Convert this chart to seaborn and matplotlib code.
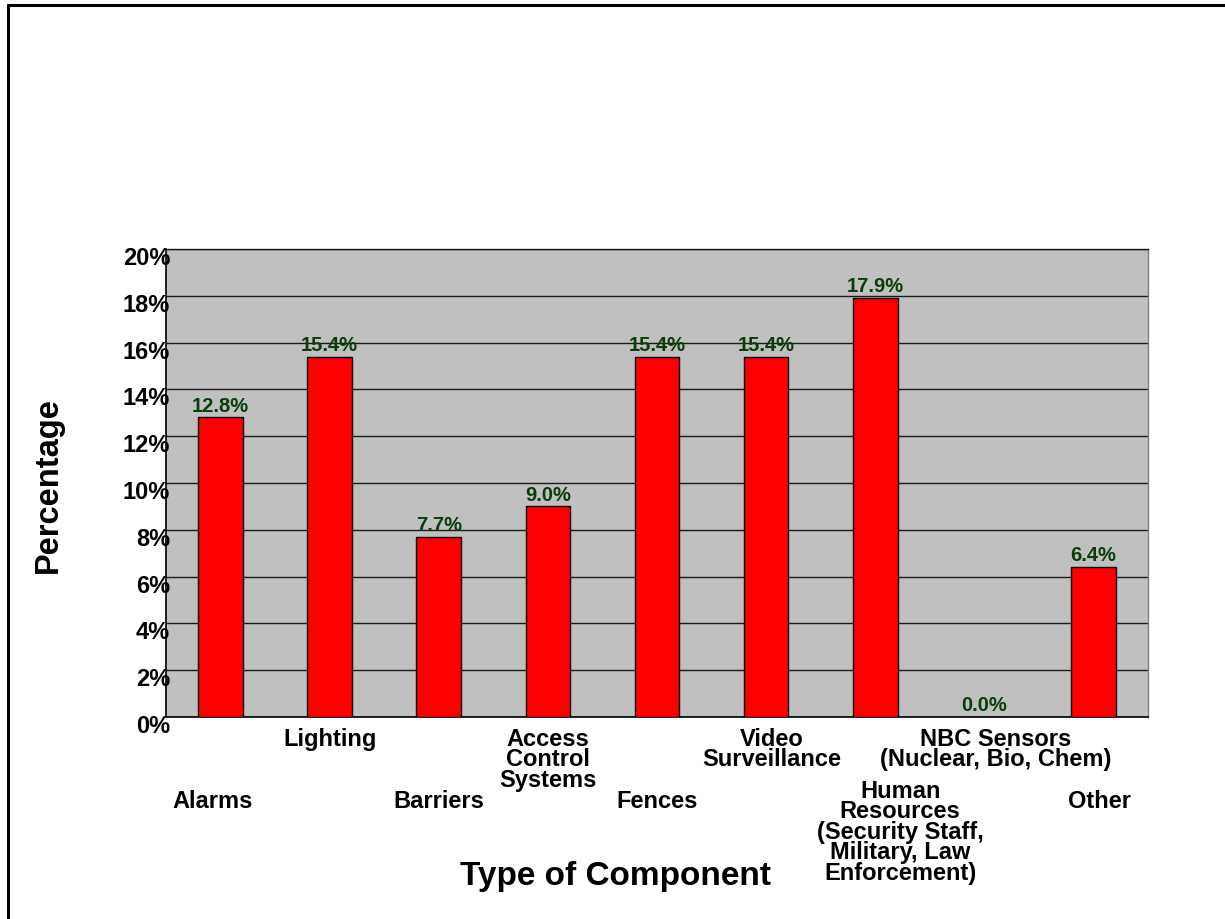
import seaborn as sns
import matplotlib.pyplot as plt
import pandas as pd
from matplotlib.lines import Line2D
from matplotlib.transforms import ScaledTranslation

# Data
categories = ['Alarms', 'Lighting', 'Barriers', 'Access\nControl\nSystems', 'Fences',
              'Video\nSurveillance',
              'Human\nResources\n(Security Staff,\nMilitary, Law\nEnforcement)',
              'NBC Sensors\n(Nuclear, Bio, Chem)', 'Other']
values = [12.8, 15.4, 7.7, 9.0, 15.4, 15.4, 17.9, 0.0, 6.4]
y_ticks = [0, 2, 4, 6, 8, 10, 12, 14, 16, 18, 20]

df = pd.DataFrame({'Category': categories, 'Percentage': values})

sns.set_style('white')
plt.rcParams['font.family'] = ['Liberation Sans', 'DejaVu Sans']
plt.rcParams['font.weight'] = 'bold'
plt.rcParams['text.color'] = 'black'
plt.rcParams['axes.labelcolor'] = 'black'
plt.rcParams['xtick.color'] = 'black'
plt.rcParams['ytick.color'] = 'black'

fig = plt.figure(figsize=(12.25, 9.2), dpi=100)
ax = fig.add_axes([166 / 1225, 1 - 718 / 920, 982 / 1225, 468 / 920])
ax.set_facecolor('#C0C0C0')

sns.barplot(x='Category', y='Percentage', data=df, color='#FF0000', saturation=1,
            width=0.41, edgecolor='black', linewidth=1.0, ax=ax, zorder=3)

ax.set_ylim(0, 20)
ax.set_xlim(-0.5, len(categories) - 0.5)
ax.set_yticks(y_ticks)
ax.set_yticklabels([f'{t}%' for t in y_ticks], fontsize=17, fontweight='bold')
ax.yaxis.grid(True, color='#1a1a1a', linewidth=1.0, zorder=1)
ax.set_axisbelow(True)
ax.tick_params(axis='y', length=0, pad=-3)
for lbl in ax.get_yticklabels():
    lbl.set_transform(lbl.get_transform() + ScaledTranslation(0, -6 / 100, fig.dpi_scale_trans))

# ticks at category boundaries, labels drawn staggered
ax.set_xticks([i - 0.5 for i in range(len(categories) + 1)])
ax.set_xticklabels([])
ax.tick_params(axis='x', direction='out', length=4, width=1, color='black')
ax.set_xlabel('')
nudge = {0: (-8, 0), 5: (6, 0), 6: (25, 10), 7: (11, 0), 8: (6, 0)}
for i, cat in enumerate(categories):
    dy = -10 if i % 2 == 1 else -72
    ndx, ndy = nudge.get(i, (0, 0))
    ax.annotate(cat, xy=(i, 0), xycoords=('data', 'axes fraction'),
                xytext=(ndx, dy + ndy), textcoords='offset pixels',
                ha='center', va='top', fontsize=17, fontweight='bold',
                linespacing=0.86)

# value labels
ax.bar_label(ax.containers[0], labels=[f'{v:.1f}%' for v in values],
             padding=2, fontsize=14.5, fontweight='bold', color='#0B3D0B')

for side in ['left', 'bottom']:
    ax.spines[side].set_color('black')
    ax.spines[side].set_linewidth(1.2)
ax.spines['top'].set_color('#1a1a1a')
ax.spines['top'].set_linewidth(1.0)
ax.spines['right'].set_color('#808080')
ax.spines['right'].set_linewidth(1.0)

ax.set_ylabel('Percentage', fontsize=23.5, fontweight='bold', labelpad=0)
ax.yaxis.set_label_coords((64 - 166) / 982, (920 - 485 - 202) / 468)

fig.text(615 / 1225, 1 - 876 / 920, 'Type of Component', ha='center', va='center',
         fontsize=24, fontweight='bold')

# partial frame around figure (top and left)
fig.add_artist(Line2D([7.5 / 1225, 1], [1 - 6 / 920, 1 - 6 / 920], color='black', linewidth=2.2))
fig.add_artist(Line2D([7.5 / 1225, 7.5 / 1225], [0, 1 - 6 / 920], color='black', linewidth=2.2))

fig.savefig('out.png', dpi=100)
